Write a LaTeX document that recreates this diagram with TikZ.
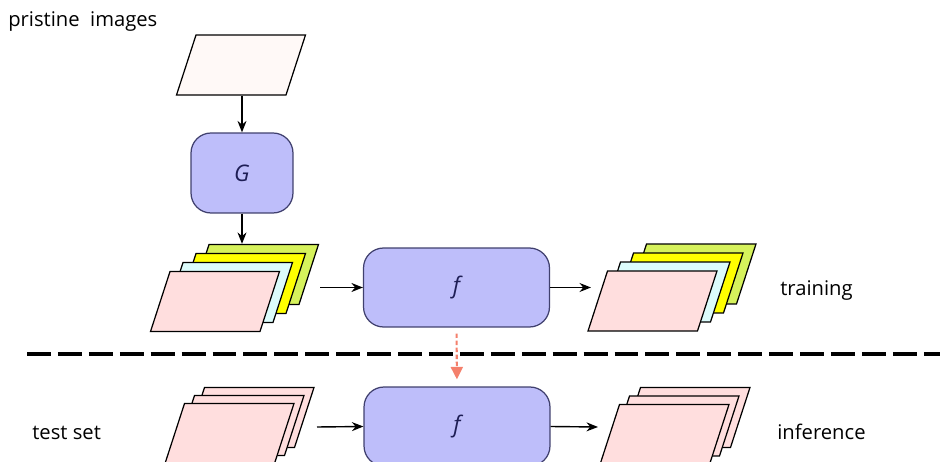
\documentclass[tikz,border=0pt]{standalone}
\usepackage{fontspec}
\setmainfont{Open Sans}
\usetikzlibrary{arrows.meta,shapes.geometric}
\definecolor{Pink}{HTML}{FFDEDE}
\definecolor{Cyan}{HTML}{DCFCFC}
\definecolor{Yellow}{HTML}{FFFF00}
\definecolor{Lime}{HTML}{D6F25C}
\definecolor{Paper}{HTML}{FFF9F7}
\definecolor{Net}{HTML}{BEBEFA}
\definecolor{Ink}{HTML}{1E1E55}
\definecolor{Salmon}{HTML}{F4806C}
\tikzset{
  img/.style={trapezium,trapezium left angle=72,trapezium right angle=108,
    draw=black,line width=.7pt,inner xsep=.9cm,inner ysep=.6cm},
  net/.style={rounded corners=.4cm,draw=Ink!85,fill=Net,line width=.7pt,
    font=\fontsize{13}{15}\selectfont\itshape,text=Ink},
  arrow/.style={-{Stealth[length=2.3mm,width=1.8mm]},draw=black,line width=.8pt},
  reuse/.style={-{Triangle[length=2.5mm,width=2.4mm]},draw=Salmon,line width=1.2pt,
    dash pattern=on 2.5pt off 1.5pt},
  caption/.style={anchor=base west,inner sep=0pt,font=\fontsize{11.5}{14}\selectfont}
}
\begin{document}
\begin{tikzpicture}[x=0.02cm,y=-0.02cm]
  \useasboundingbox (0,0) rectangle (940,462);
  \clip (0,0) rectangle (940,462);
  % pristine images and generator
  \node[caption] (pristine) at (8,27) {pristine\ \ images};
  \node[img,fill=Paper] (src) at (241,65) {};
  \node[net,minimum width=2.04cm,minimum height=1.6cm] (G) at (242,173) {G};
  % training set
  \node[img,fill=Lime] (tr4) at (254,274.5) {};
  \node[img,fill=Yellow] (tr3) at (241,283.5) {};
  \node[img,fill=Cyan] (tr2) at (228,292.5) {};
  \node[img,fill=Pink] (tr1) at (215,301.5) {};
  \node[net,minimum width=3.72cm,minimum height=1.58cm] (f1) at (456.5,287.5) {f};
  \node[img,fill=Lime] (out4) at (691.5,274) {};
  \node[img,fill=Yellow] (out3) at (678.5,283) {};
  \node[img,fill=Cyan] (out2) at (665.5,292) {};
  \node[img,fill=Pink] (out1) at (652.5,301) {};
  \node[caption] (training) at (780,296) {training};
  \coordinate (in1) at (320,287.5);
  \coordinate (res1) at (591,287.5);
  \draw[arrow] (src.south -| G.north) -- (G.north);
  \draw[arrow] (G.south) -- (G.south |- tr4.north);
  \draw[arrow] (in1) -- (f1.west);
  \draw[arrow] (f1.east) -- (res1);
  % separator
  \draw[line width=2.2pt,dash pattern=on 13.6pt off 4pt] (27,354) -- (940,354);
  % test set
  \node[caption] (testset) at (32,439) {test set};
  \node[img,fill=Pink] (te3) at (249.5,417.5) {};
  \node[img,fill=Pink] (te2) at (239.5,425.5) {};
  \node[img,fill=Pink] (te1) at (229.5,433.5) {};
  \node[net,minimum width=3.72cm,minimum height=1.58cm] (f2) at (457,426.5) {f};
  \node[img,fill=Pink] (pr3) at (685.5,417.5) {};
  \node[img,fill=Pink] (pr2) at (674.5,426) {};
  \node[img,fill=Pink] (pr1) at (664.5,434.5) {};
  \node[caption] (inference) at (777,439) {inference};
  \coordinate (in2) at (317,427);
  \coordinate (res2) at (598,427);
  \draw[arrow] (in2) -- (f2.west);
  \draw[arrow] (f2.east) -- (res2);
  \draw[reuse,shorten <=0.12cm,shorten >=0.14cm] (f1.south) -- (f2.north);
\end{tikzpicture}
\end{document}
